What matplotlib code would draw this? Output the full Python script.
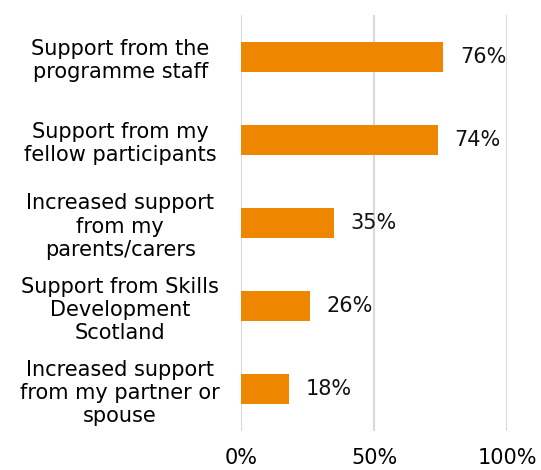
import matplotlib.pyplot as plt
from matplotlib.ticker import FuncFormatter

# Sources of support and share of respondents
categories = ["Support from the\nprogramme staff",
              "Support from my\nfellow participants",
              "Increased support\nfrom my\nparents/carers",
              "Support from Skills\nDevelopment\nScotland",
              "Increased support\nfrom my partner or\nspouse"]
values = [76, 74, 35, 26, 18]
xticks = [0, 50, 100]

barColor = '#EF8600'
gridColor = '#D9D9D9'

plt.rcParams['font.family'] = 'DejaVu Sans'

fig = plt.figure(figsize=(5.41, 4.70), dpi=100)
ax = fig.add_axes([0.4455, 0.083, 0.4917, 0.885])

ypos = list(range(len(categories)))
ax.barh(ypos, values, height=0.36, color=barColor, zorder=3)

for y, v in zip(ypos, values):
    ax.annotate("{:d}%".format(v), (v, y), xytext=(12, 0), textcoords='offset points',
                ha='left', va='center', fontsize=15, color='#111111')

ax.set_xlim(0, 100)
ax.set_ylim(len(categories) - 0.5, -0.5)
ax.set_xticks(xticks)
ax.xaxis.set_major_formatter(FuncFormatter(lambda x, p: "{:d}%".format(int(x))))
ax.set_yticks(ypos)
ax.set_yticklabels(categories, ha='center', multialignment='center')
ax.tick_params(axis='y', length=0, pad=87, labelsize=15)
ax.tick_params(axis='x', length=0, pad=12, labelsize=15)

ax.grid(axis='x', color=gridColor, linewidth=1.5, zorder=0)
for s in ax.spines.values():
    s.set_visible(False)

fig.savefig('out.png', dpi=100)
